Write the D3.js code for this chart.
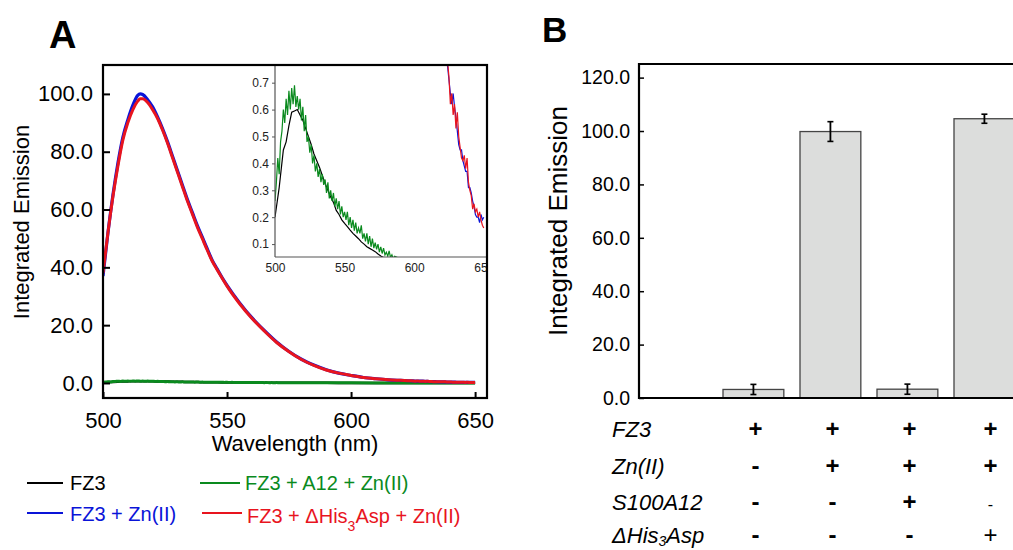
<!DOCTYPE html>
<html><head><meta charset="utf-8">
<script src="https://cdn.jsdelivr.net/npm/d3@7"></script>
<style>
html,body{margin:0;padding:0;background:#fff;}
svg{display:block;font-family:"Liberation Sans",Arial,Helvetica,sans-serif;}
</style></head>
<body>
<svg id="chart" width="1013" height="550"></svg>
<script>
// ---------- Panel A data: emission spectra ----------
const seriesNames = ["FZ3", "FZ3 + Zn(II)", "FZ3 + A12 + Zn(II)", "FZ3 + ΔHis3Asp + Zn(II)"];
const seriesColors = ["#000000", "#0a14d8", "#0a8a1e", "#e8141e"];

// FZ3 alone (black)
const fz3Wl = [500,503,506,508,510,512,514,516,518,520,522,524,526,528,530,532,534,536,538,540,542,544,546,548,550,552,554,556,558,560,562,564,566,568,570,572,574,576,578,580,590,600,620,650];
const fz3Val = [0.20,0.31,0.45,0.48,0.54,0.59,0.595,0.60,0.58,0.56,0.53,0.50,0.47,0.435,0.41,0.385,0.355,0.325,0.30,0.275,0.255,0.225,0.21,0.19,0.177,0.165,0.152,0.14,0.13,0.12,0.108,0.10,0.09,0.084,0.078,0.072,0.063,0.056,0.05,0.045,0.035,0.03,0.02,0.01];

// FZ3 + A12 + Zn(II) (green)
const a12Wl = [500,501,502,503,504,505,506,507,508,509,510,511,512,513,514,515,516,517,518,519,520,521,522,523,524,525,526,527,528,529,530,531,532,533,534,535,536,537,538,539,540,541,542,543,544,545,546,547,548,549,550,551,552,553,554,555,556,557,558,559,560,561,562,563,564,565,566,567,568,569,570,571,572,573,574,575,576,577,578,579,580,581,582,583,584,585,586,590,600,620,650];
const a12Val = [0.26,0.33,0.42,0.36,0.48,0.52,0.60,0.55,0.64,0.58,0.67,0.60,0.68,0.62,0.69,0.61,0.65,0.60,0.64,0.56,0.61,0.52,0.58,0.48,0.50,0.44,0.47,0.40,0.43,0.37,0.40,0.35,0.38,0.33,0.36,0.32,0.34,0.29,0.33,0.27,0.30,0.26,0.29,0.24,0.27,0.23,0.26,0.21,0.24,0.20,0.22,0.19,0.22,0.17,0.20,0.16,0.19,0.15,0.18,0.14,0.16,0.14,0.17,0.12,0.14,0.11,0.14,0.10,0.13,0.09,0.12,0.085,0.105,0.08,0.10,0.07,0.09,0.065,0.085,0.06,0.07,0.055,0.075,0.05,0.06,0.045,0.055,0.045,0.035,0.025,0.015];

// FZ3 + Zn(II) (blue)
const znWl = [500,502,504,506,508,510,512,514,515,516,518,520,522,524,526,528,530,532,534,536,538,540,542,544,546,548,550,555,560,565,570,575,580,585,590,595,600,605,610,615,620,624,625,626,627,628,629,630,631,632,633,634,635,636,637,638,639,640,641,642,643,644,645,646,647,648,649,650];
const znVal = [37,52,65,76,85,91,96,99.5,100,99.8,98,95.5,92,88,83.5,78.5,73.5,68.5,63.5,59,54.5,50.5,46.5,42.5,39.5,36.5,33.8,27.8,22.6,18.2,14.2,10.9,8.2,6.2,4.6,3.4,2.6,1.9,1.45,1.1,0.9,0.76,0.71,0.66,0.62,0.66,0.61,0.57,0.52,0.47,0.45,0.45,0.41,0.39,0.37,0.37,0.31,0.31,0.29,0.26,0.24,0.21,0.20,0.20,0.18,0.21,0.19,0.20];

// FZ3 + ΔHis3Asp + Zn(II) (red)
const hisWl = [500,502,504,506,508,510,512,514,515,516,518,520,522,524,526,528,530,532,534,536,538,540,542,544,546,548,550,555,560,565,570,575,580,585,590,595,600,605,610,615,620,624,625,626,627,628,629,630,631,632,633,634,635,636,637,638,639,640,641,642,643,644,645,646,647,648,649,650];
const hisVal = [38,52,64.5,75,84,90,94.5,97.5,98.3,98.3,97,94.5,91.5,87.5,83,78,73,68,63,58.5,54,50,46,42.2,39.2,36.3,33.5,27.5,22.4,18,14,10.8,8.1,6.1,4.5,3.4,2.6,1.9,1.45,1.1,0.92,0.78,0.72,0.62,0.66,0.58,0.62,0.53,0.59,0.50,0.46,0.42,0.41,0.43,0.38,0.42,0.33,0.30,0.28,0.23,0.25,0.22,0.23,0.20,0.22,0.19,0.17,0.16];

const mainXTicks = [500,550,600,650];
const mainYTicks = [0,20,40,60,80,100];
const insetXTicks = [500,550,600,650];
const insetYTicks = [0.1,0.2,0.3,0.4,0.5,0.6,0.7];

// ---------- Panel B data: integrated emission bars ----------
const barCats = ["c1","c2","c3","c4"];
const barVals = [3.2, 99.8, 3.3, 104.6];
const barErr = [1.9, 3.7, 1.9, 1.7];
const barYTicks = [0,20,40,60,80,100,120];
const tableRows = ["FZ3","Zn(II)","S100A12","ΔHis3Asp"];
const tableSigns = [["+","+","+","+"],["-","+","+","+"],["-","-","+","-"],["-","-","-","+"]];

const svg = d3.select("#chart");
const FONT = "Liberation Sans, Arial, sans-serif";

// ================= PANEL A =================
const A = {l:103, r:487, t:65, b:398};
const xA = d3.scaleLinear().domain([500, 654.8]).range([A.l, A.r]);
const yA = d3.scaleLinear().domain([-5.2, 110]).range([A.b, A.t]);

svg.append("defs").append("clipPath").attr("id","clipA")
  .append("rect").attr("x",A.l).attr("y",A.t).attr("width",A.r-A.l).attr("height",A.b-A.t);

const gA = svg.append("g");
const plotA = gA.append("g").attr("clip-path","url(#clipA)");

const mainSeries = [
  {wl:fz3Wl, v:fz3Val, c:seriesColors[0], w:2.5},
  {wl:a12Wl, v:a12Val, c:seriesColors[2], w:3},
  {wl:znWl, v:znVal, c:seriesColors[1], w:3.2},
  {wl:hisWl, v:hisVal, c:seriesColors[3], w:3}
];
const lineA = d3.line().x(d=>xA(d[0])).y(d=>yA(d[1])).curve(d3.curveMonotoneX);
mainSeries.forEach(s=>{
  plotA.append("path").datum(s.wl.map((w,i)=>[w,s.v[i]]))
    .attr("d",lineA).attr("fill","none").attr("stroke",s.c).attr("stroke-width",s.w);
});

// Inset
const I = {l:275, r:486, t:66, b:257};
const xI = d3.scaleLinear().domain([500, 651.6]).range([I.l, I.r]);
const yI = d3.scaleLinear().domain([0.052, 0.762]).range([I.b, I.t]);
svg.select("defs").append("clipPath").attr("id","clipI")
  .append("rect").attr("x",I.l).attr("y",I.t).attr("width",I.r-I.l).attr("height",I.b-I.t);
const gI = plotA.append("g");
gI.append("rect").attr("x",I.l).attr("y",I.t).attr("width",I.r-I.l).attr("height",I.b-I.t).attr("fill","#fff");
const lineI = d3.line().x(d=>xI(d[0])).y(d=>yI(d[1]));
const insetSeries = [
  {wl:fz3Wl, v:fz3Val, c:seriesColors[0]},
  {wl:a12Wl, v:a12Val, c:seriesColors[2]},
  {wl:znWl, v:znVal, c:seriesColors[1]},
  {wl:hisWl, v:hisVal, c:seriesColors[3]}
];
const gIp = gI.append("g").attr("clip-path","url(#clipI)");
insetSeries.forEach(s=>{
  gIp.append("path").datum(s.wl.map((w,i)=>[w,s.v[i]]))
    .attr("d",lineI).attr("fill","none").attr("stroke",s.c).attr("stroke-width",1.2);
});
const axIy = gI.append("g").attr("transform",`translate(${I.l},0)`)
  .call(d3.axisLeft(yI).tickValues(insetYTicks).tickSize(3).tickFormat(d3.format(".1f")));
const axIx = gI.append("g").attr("transform",`translate(0,${I.b})`)
  .call(d3.axisBottom(xI).tickValues(insetXTicks).tickSize(0).tickPadding(6).tickFormat(d3.format("d")));
[axIy, axIx].forEach(g=>{
  g.select(".domain").attr("stroke","#555").attr("stroke-width",1.2);
  g.selectAll(".tick line").attr("stroke","#555");
  g.selectAll("text").attr("font-family",FONT).attr("font-size",12).attr("fill","#222");
});
axIy.select(".domain").attr("d",`M0,${I.b}V${I.t-1}`);
axIx.select(".domain").attr("d",`M${I.l},0H${I.r}`);

// Main axes
const axAy = gA.append("g").attr("transform",`translate(${A.l},0)`)
  .call(d3.axisLeft(yA).tickValues(mainYTicks).tickSize(-7).tickPadding(10).tickFormat(d3.format(".1f")));
const axAx = gA.append("g").attr("transform",`translate(0,${A.b})`)
  .call(d3.axisBottom(xA).tickValues(mainXTicks).tickSize(-6).tickPadding(12).tickFormat(d3.format("d")));
[axAy, axAx].forEach(g=>{
  g.select(".domain").remove();
  g.selectAll(".tick line").attr("stroke","#000").attr("stroke-width",2);
  g.selectAll("text").attr("font-family",FONT).attr("font-size",22).attr("fill","#000");
});
axAx.selectAll("text").attr("dy","0.8em");
gA.append("rect").attr("x",A.l).attr("y",A.t).attr("width",A.r-A.l).attr("height",A.b-A.t)
  .attr("fill","none").attr("stroke","#000").attr("stroke-width",2.2);

gA.append("text").attr("x",295).attr("y",451).attr("text-anchor","middle")
  .attr("font-family",FONT).attr("font-size",22).text("Wavelength (nm)");
gA.append("text").attr("transform","translate(29,222) rotate(-90)").attr("text-anchor","middle")
  .attr("font-family",FONT).attr("font-size",22).text("Integrated Emission");
gA.append("text").attr("x",49).attr("y",48).attr("font-family",FONT).attr("font-weight","bold")
  .attr("font-size",38).text("A");

// Legend
const legend = [
  {i:0, x1:27, x2:63, ly:483, tx:70, ty:490},
  {i:2, x1:200, x2:240, ly:483, tx:245, ty:490},
  {i:1, x1:27, x2:63, ly:513, tx:70, ty:521},
  {i:3, x1:202, x2:242, ly:513, tx:247, ty:523}
];
legend.forEach(L=>{
  gA.append("line").attr("x1",L.x1).attr("x2",L.x2).attr("y1",L.ly).attr("y2",L.ly)
    .attr("stroke",seriesColors[L.i]).attr("stroke-width",2.2);
  const t = gA.append("text").attr("x",L.tx).attr("y",L.ty).attr("font-family",FONT)
    .attr("font-size",20).attr("fill",seriesColors[L.i]);
  const name = seriesNames[L.i];
  if (name.includes("His3")) {
    const parts = name.split("His3");
    t.append("tspan").text(parts[0]+"His");
    t.append("tspan").attr("dy",8).attr("font-size",14).text("3");
    t.append("tspan").attr("dy",-8).text(parts[1]);
  } else t.text(name);
});

// ================= PANEL B =================
const B = {l:639, t:64, b:398, r:1030};
const yB = d3.scaleLinear().domain([0, 125.1]).range([B.b, B.t]);
const xB = d3.scaleBand().domain(barCats).range([723, 723 + 77*(4-0.21)]).paddingInner(0.21).paddingOuter(0);
const gB = svg.append("g");

gB.selectAll("rect.bar").data(barVals).join("rect").attr("class","bar")
  .attr("x",(d,i)=>xB(barCats[i])).attr("width",xB.bandwidth())
  .attr("y",d=>yB(d)).attr("height",d=>yB(0)-yB(d))
  .attr("fill","#dcdddc").attr("stroke","#444").attr("stroke-width",1.3);

const eb = gB.selectAll("g.err").data(barVals).join("g").attr("class","err");
eb.each(function(d,i){
  const cx = xB(barCats[i]) + xB.bandwidth()/2;
  const g = d3.select(this);
  const y1 = yB(d+barErr[i]), y2 = yB(d-barErr[i]);
  g.append("line").attr("x1",cx).attr("x2",cx).attr("y1",y1).attr("y2",y2).attr("stroke","#000").attr("stroke-width",1.8);
  [y1,y2].forEach(y=>g.append("line").attr("x1",cx-3).attr("x2",cx+3).attr("y1",y).attr("y2",y).attr("stroke","#000").attr("stroke-width",1.6));
});

const axBy = gB.append("g").attr("transform",`translate(${B.l},0)`)
  .call(d3.axisLeft(yB).tickValues(barYTicks).tickSize(-5).tickPadding(9).tickFormat(d3.format(".1f")));
axBy.select(".domain").remove();
axBy.selectAll(".tick line").attr("stroke","#000").attr("stroke-width",1.5);
axBy.selectAll("text").attr("font-family",FONT).attr("font-size",19.5).attr("fill","#000");

gB.append("path").attr("d",`M${B.r},${B.t}H${B.l}V${B.b}H${B.r}`)
  .attr("fill","none").attr("stroke","#000").attr("stroke-width",2.2);

gB.append("text").attr("transform","translate(567,221) rotate(-90)").attr("text-anchor","middle")
  .attr("font-family",FONT).attr("font-size",26).text("Integrated Emission");
gB.append("text").attr("x",542).attr("y",42).attr("font-family",FONT).attr("font-weight","bold")
  .attr("font-size",35).text("B");

// Table beneath bars
const rowY = [437, 474, 510, 543];
tableRows.forEach((r,ri)=>{
  const t = gB.append("text").attr("x",612).attr("y",rowY[ri]).attr("font-family",FONT)
    .attr("font-size",22).attr("font-style","italic");
  if (r.includes("His3")) {
    t.append("tspan").text("ΔHis");
    t.append("tspan").attr("dy",3).attr("font-size",14).text("3");
    t.append("tspan").attr("dy",-3).text("Asp");
  } else t.text(r);
  tableSigns[ri].forEach((s,ci)=>{
    const thin = (ci===3 && ri>=2);
    const cx = xB(barCats[ci]) + xB.bandwidth()/2 + (ci===3 ? 6 : 2);
    gB.append("text").attr("x",cx).attr("y",rowY[ri]).attr("text-anchor","middle")
      .attr("font-family",FONT).attr("font-size", thin ? (s==="-"?16:24) : 24)
      .attr("font-weight", thin ? "normal" : "bold").text(s);
  });
});
</script>
</body></html>
